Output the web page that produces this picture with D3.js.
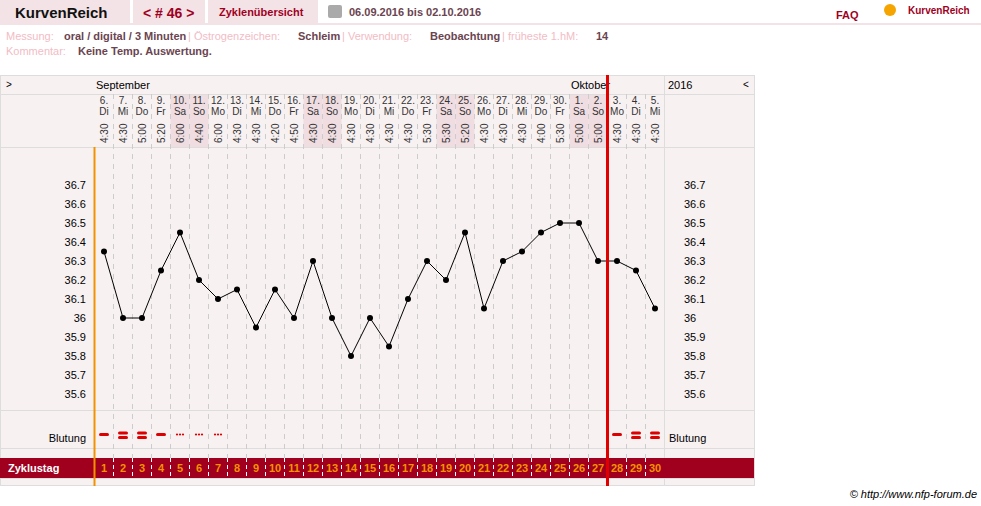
<!DOCTYPE html><html><head><meta charset="utf-8"><script src="https://cdn.jsdelivr.net/npm/d3@7"></script>
<style>body{margin:0;background:#fff;font-family:Arial,"Liberation Sans",sans-serif}</style></head><body><svg id="c" width="981" height="506"></svg><script>
const days=["6.","7.","8.","9.","10.","11.","12.","13.","14.","15.","16.","17.","18.","19.","20.","21.","22.","23.","24.","25.","26.","27.","28.","29.","30.","1.","2.","3.","4.","5."];
const weekdays=["Di","Mi","Do","Fr","Sa","So","Mo","Di","Mi","Do","Fr","Sa","So","Mo","Di","Mi","Do","Fr","Sa","So","Mo","Di","Mi","Do","Fr","Sa","So","Mo","Di","Mi"];
const times=["4:30","4:30","5:00","5:20","6:00","4:40","6:00","4:30","4:30","4:20","4:50","4:30","4:30","4:30","4:30","4:30","4:30","5:30","5:30","5:20","4:30","4:30","4:30","4:00","5:30","5:00","5:00","4:30","4:30","4:30"];
const temps=[36.35,36.0,36.0,36.25,36.45,36.2,36.1,36.15,35.95,36.15,36.0,36.3,36.0,35.8,36.0,35.85,36.1,36.3,36.2,36.45,36.05,36.3,36.35,36.45,36.5,36.5,36.3,36.3,36.25,36.05];
const bleeding=["-","=","=","-","...","...","...","","","","","","","","","","","","","","","","","","","","","-","=","="];
const yTicks=[36.7,36.6,36.5,36.4,36.3,36.2,36.1,36,35.9,35.8,35.7,35.6];
const svg=d3.select("#c");
const x=d3.scaleBand().domain(d3.range(30)).range([94.5,664.5]);
const y=d3.scaleLinear().domain([35.6,36.7]).range([394,185]);
const cx=i=>x(i)+x.bandwidth()/2;
const dark="#a0001e",pink="#f8f1f2";
// header
[[0,130],[133,72],[208,110]].forEach(d=>svg.append("rect").attr("x",d[0]).attr("y",0).attr("width",d[1]).attr("height",23).attr("fill","#f3e3e6"));
svg.append("rect").attr("x",0).attr("y",23).attr("width",981).attr("height",2).attr("fill","#f3e3e6");
svg.append("text").attr("x",15).attr("y",18).text("KurvenReich").attr("font-size",15).attr("font-weight","bold").attr("fill","#111");
svg.append("text").attr("x",143).attr("y",18).text("< # 46 >").attr("font-size",14).attr("font-weight","bold").attr("fill",dark);
svg.append("text").attr("x",219).attr("y",16).text("Zyklenübersicht").attr("font-size",11).attr("font-weight","bold").attr("fill",dark);
svg.append("rect").attr("x",328).attr("y",5).attr("width",14).attr("height",13).attr("rx",2).attr("fill","#aaa");
svg.append("text").attr("x",349).attr("y",16).text("06.09.2016 bis 02.10.2016").attr("font-size",11).attr("font-weight","bold").attr("fill","#6b4450");
svg.append("text").attr("x",836).attr("y",19).text("FAQ").attr("font-size",11).attr("font-weight","bold").attr("fill",dark);
svg.append("text").attr("x",908).attr("y",14).text("KurvenReich").attr("font-size",10).attr("font-weight","bold").attr("fill",dark);
svg.append("circle").attr("cx",890).attr("cy",10).attr("r",6).attr("fill","#f5a400");
const info=[[6,"Messung:","#f2bcc5"],[64,"oral / digital / 3 Minuten","#6b4450"],[188,"| Östrogenzeichen:","#f2bcc5"],[298,"Schleim","#6b4450"],[342,"| Verwendung:","#f2bcc5"],[430,"Beobachtung","#6b4450"],[502,"| früheste 1.hM:","#f2bcc5"],[596,"14","#6b4450"]];
info.forEach(d=>svg.append("text").attr("x",d[0]).attr("y",40).text(d[1]).attr("font-size",11).attr("font-weight",d[2]=="#6b4450"?"bold":"normal").attr("fill",d[2]));
svg.append("text").attr("x",6).attr("y",55).text("Kommentar:").attr("font-size",11).attr("fill","#f2bcc5");
svg.append("text").attr("x",78).attr("y",55).text("Keine Temp. Auswertung.").attr("font-size",11).attr("font-weight","bold").attr("fill","#6b4450");
// chart frame
svg.append("rect").attr("x",0.5).attr("y",75.5).attr("width",754).attr("height",410).attr("fill",pink).attr("stroke","#ddd");
d3.range(30).filter(i=>weekdays[i]=="Sa"||weekdays[i]=="So").forEach(i=>svg.append("rect").attr("x",x(i)).attr("y",94).attr("width",x.bandwidth()).attr("height",53).attr("fill","#f0dde1"));
[94,147,410,448,478].forEach(v=>svg.append("line").attr("x1",0).attr("x2",754).attr("y1",v+.5).attr("y2",v+.5).attr("stroke","#ddd"));
svg.append("line").attr("x1",664.5).attr("x2",664.5).attr("y1",75).attr("y2",486).attr("stroke","#ddd");
d3.range(1,30).forEach(i=>svg.append("line").attr("x1",x(i)).attr("x2",x(i)).attr("y1",94).attr("y2",478).attr("stroke","#ccc").attr("stroke-dasharray","5,5"));
svg.append("text").attr("x",6).attr("y",88).text(">").attr("font-size",10);
svg.append("text").attr("x",743).attr("y",88).text("<").attr("font-size",10);
svg.append("text").attr("x",96).attr("y",89).text("September").attr("font-size",11);
svg.append("text").attr("x",571).attr("y",89).text("Oktober").attr("font-size",11);
svg.append("text").attr("x",668).attr("y",89).text("2016").attr("font-size",11);
d3.range(30).forEach(i=>{
 svg.append("text").attr("x",cx(i)).attr("y",104).attr("text-anchor","middle").text(days[i]).attr("font-size",10).attr("fill","#333");
 svg.append("text").attr("x",cx(i)).attr("y",115).attr("text-anchor","middle").text(weekdays[i]).attr("font-size",10).attr("fill","#333");
 svg.append("text").attr("transform",`translate(${cx(i)+4},${143}) rotate(-90)`).text(times[i]).attr("font-size",10).attr("fill","#333");
});
yTicks.forEach(t=>{
 svg.append("text").attr("x",86).attr("y",y(t)+4).attr("text-anchor","end").text(String(t)).attr("font-size",11);
 svg.append("text").attr("x",684).attr("y",y(t)+4).text(String(t)).attr("font-size",11);
});
svg.append("path").datum(temps).attr("d",d3.line().x((d,i)=>cx(i)).y(d=>y(d))).attr("fill","none").attr("stroke","#000").attr("stroke-width",1);
svg.selectAll(".pt").data(temps).join("circle").attr("cx",(d,i)=>cx(i)).attr("cy",d=>y(d)).attr("r",3).attr("fill","#000");
svg.append("text").attr("x",86).attr("y",442).attr("text-anchor","end").text("Blutung").attr("font-size",11);
svg.append("text").attr("x",669).attr("y",442).text("Blutung").attr("font-size",11);
bleeding.forEach((b,i)=>{
 const c=cx(i);
 if(b=="-")svg.append("rect").attr("x",c-5).attr("y",433).attr("width",10).attr("height",3).attr("rx",1.5).attr("fill","#d00");
 if(b=="=")[431.5,436].forEach(v=>svg.append("rect").attr("x",c-5).attr("y",v).attr("width",10).attr("height",3).attr("rx",1.5).attr("fill","#d00"));
 if(b=="...")[-3,0,3].forEach(o=>svg.append("circle").attr("cx",c+o).attr("cy",434.5).attr("r",1.1).attr("fill","#d00"));
});
svg.append("rect").attr("x",0).attr("y",458).attr("width",754).attr("height",20).attr("fill",dark);
svg.append("text").attr("x",8).attr("y",472).text("Zyklustag").attr("font-size",11).attr("font-weight","bold").attr("fill","#fff");
d3.range(30).forEach(i=>{
 svg.append("text").attr("x",cx(i)).attr("y",472).attr("text-anchor","middle").text(i+1).attr("font-size",11).attr("font-weight","bold").attr("fill","#f39200");
 if(i>0)svg.append("line").attr("x1",x(i)).attr("x2",x(i)).attr("y1",458).attr("y2",478).attr("stroke","#fff").attr("stroke-dasharray","4,3");
});
svg.append("line").attr("x1",94.5).attr("x2",94.5).attr("y1",147).attr("y2",486).attr("stroke","#f39200").attr("stroke-width",2);
svg.append("line").attr("x1",x(27)).attr("x2",x(27)).attr("y1",75).attr("y2",486).attr("stroke","#e00000").attr("stroke-width",3);
svg.append("text").attr("x",977).attr("y",498).attr("text-anchor","end").text("© http://www.nfp-forum.de").attr("font-size",11).attr("font-style","italic");
</script></body></html>
